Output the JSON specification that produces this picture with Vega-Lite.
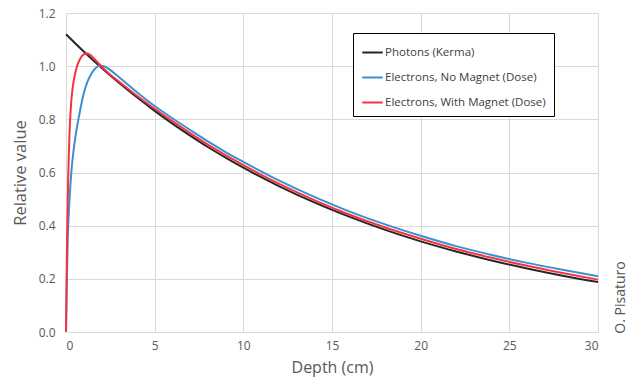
{
  "$schema": "https://vega.github.io/schema/vega-lite/v6.json",
  "width": 532,
  "height": 319,
  "autosize": "none",
  "padding": {"left": 66, "top": 13, "right": 32, "bottom": 47},
  "background": "white",
  "config": {
    "view": {"stroke": null},
    "font": "Open Sans",
    "axis": {"labelColor": "#595959", "titleColor": "#595959", "labelFontSize": 12, "titleFontSize": 16.5, "titleFontWeight": "normal", "gridColor": "#d9d9d9", "gridWidth": 1, "domain": false, "ticks": false}
  },
  "data": {"values": [
    {"d": 0, "v": 1.12, "s": "Photons (Kerma)"},
    {"d": 1, "v": 1.055, "s": "Photons (Kerma)"},
    {"d": 2, "v": 0.994, "s": "Photons (Kerma)"},
    {"d": 3, "v": 0.937, "s": "Photons (Kerma)"},
    {"d": 4, "v": 0.883, "s": "Photons (Kerma)"},
    {"d": 5, "v": 0.832, "s": "Photons (Kerma)"},
    {"d": 6, "v": 0.784, "s": "Photons (Kerma)"},
    {"d": 7, "v": 0.739, "s": "Photons (Kerma)"},
    {"d": 8, "v": 0.696, "s": "Photons (Kerma)"},
    {"d": 9, "v": 0.656, "s": "Photons (Kerma)"},
    {"d": 10, "v": 0.618, "s": "Photons (Kerma)"},
    {"d": 12, "v": 0.549, "s": "Photons (Kerma)"},
    {"d": 14, "v": 0.4875, "s": "Photons (Kerma)"},
    {"d": 16, "v": 0.433, "s": "Photons (Kerma)"},
    {"d": 18, "v": 0.384, "s": "Photons (Kerma)"},
    {"d": 20, "v": 0.341, "s": "Photons (Kerma)"},
    {"d": 22, "v": 0.303, "s": "Photons (Kerma)"},
    {"d": 24, "v": 0.269, "s": "Photons (Kerma)"},
    {"d": 26, "v": 0.239, "s": "Photons (Kerma)"},
    {"d": 28, "v": 0.212, "s": "Photons (Kerma)"},
    {"d": 30, "v": 0.188, "s": "Photons (Kerma)"},
    {"d": 0, "v": 0, "s": "Electrons, No Magnet (Dose)"},
    {"d": 0.05, "v": 0.2, "s": "Electrons, No Magnet (Dose)"},
    {"d": 0.1, "v": 0.35, "s": "Electrons, No Magnet (Dose)"},
    {"d": 0.2, "v": 0.5, "s": "Electrons, No Magnet (Dose)"},
    {"d": 0.3, "v": 0.6, "s": "Electrons, No Magnet (Dose)"},
    {"d": 0.4, "v": 0.668, "s": "Electrons, No Magnet (Dose)"},
    {"d": 0.5, "v": 0.72, "s": "Electrons, No Magnet (Dose)"},
    {"d": 0.6, "v": 0.763, "s": "Electrons, No Magnet (Dose)"},
    {"d": 0.7, "v": 0.8, "s": "Electrons, No Magnet (Dose)"},
    {"d": 0.8, "v": 0.835, "s": "Electrons, No Magnet (Dose)"},
    {"d": 0.9, "v": 0.868, "s": "Electrons, No Magnet (Dose)"},
    {"d": 1.0, "v": 0.897, "s": "Electrons, No Magnet (Dose)"},
    {"d": 1.2, "v": 0.94, "s": "Electrons, No Magnet (Dose)"},
    {"d": 1.4, "v": 0.968, "s": "Electrons, No Magnet (Dose)"},
    {"d": 1.6, "v": 0.988, "s": "Electrons, No Magnet (Dose)"},
    {"d": 1.8, "v": 0.999, "s": "Electrons, No Magnet (Dose)"},
    {"d": 2.0, "v": 1.002, "s": "Electrons, No Magnet (Dose)"},
    {"d": 2.2, "v": 0.998, "s": "Electrons, No Magnet (Dose)"},
    {"d": 2.5, "v": 0.985, "s": "Electrons, No Magnet (Dose)"},
    {"d": 3, "v": 0.958, "s": "Electrons, No Magnet (Dose)"},
    {"d": 3.5, "v": 0.93, "s": "Electrons, No Magnet (Dose)"},
    {"d": 4, "v": 0.902, "s": "Electrons, No Magnet (Dose)"},
    {"d": 5, "v": 0.85, "s": "Electrons, No Magnet (Dose)"},
    {"d": 6, "v": 0.804, "s": "Electrons, No Magnet (Dose)"},
    {"d": 7, "v": 0.76, "s": "Electrons, No Magnet (Dose)"},
    {"d": 8, "v": 0.717, "s": "Electrons, No Magnet (Dose)"},
    {"d": 9, "v": 0.677, "s": "Electrons, No Magnet (Dose)"},
    {"d": 10, "v": 0.64, "s": "Electrons, No Magnet (Dose)"},
    {"d": 12, "v": 0.57, "s": "Electrons, No Magnet (Dose)"},
    {"d": 14, "v": 0.508, "s": "Electrons, No Magnet (Dose)"},
    {"d": 16, "v": 0.453, "s": "Electrons, No Magnet (Dose)"},
    {"d": 18, "v": 0.405, "s": "Electrons, No Magnet (Dose)"},
    {"d": 20, "v": 0.362, "s": "Electrons, No Magnet (Dose)"},
    {"d": 22, "v": 0.323, "s": "Electrons, No Magnet (Dose)"},
    {"d": 24, "v": 0.29, "s": "Electrons, No Magnet (Dose)"},
    {"d": 26, "v": 0.26, "s": "Electrons, No Magnet (Dose)"},
    {"d": 28, "v": 0.234, "s": "Electrons, No Magnet (Dose)"},
    {"d": 30, "v": 0.21, "s": "Electrons, No Magnet (Dose)"},
    {"d": 0, "v": 0, "s": "Electrons, With Magnet (Dose)"},
    {"d": 0.05, "v": 0.3, "s": "Electrons, With Magnet (Dose)"},
    {"d": 0.1, "v": 0.5, "s": "Electrons, With Magnet (Dose)"},
    {"d": 0.2, "v": 0.75, "s": "Electrons, With Magnet (Dose)"},
    {"d": 0.3, "v": 0.87, "s": "Electrons, With Magnet (Dose)"},
    {"d": 0.4, "v": 0.93, "s": "Electrons, With Magnet (Dose)"},
    {"d": 0.5, "v": 0.968, "s": "Electrons, With Magnet (Dose)"},
    {"d": 0.6, "v": 0.995, "s": "Electrons, With Magnet (Dose)"},
    {"d": 0.8, "v": 1.028, "s": "Electrons, With Magnet (Dose)"},
    {"d": 1.0, "v": 1.044, "s": "Electrons, With Magnet (Dose)"},
    {"d": 1.2, "v": 1.048, "s": "Electrons, With Magnet (Dose)"},
    {"d": 1.4, "v": 1.041, "s": "Electrons, With Magnet (Dose)"},
    {"d": 1.6, "v": 1.027, "s": "Electrons, With Magnet (Dose)"},
    {"d": 2.0, "v": 0.999, "s": "Electrons, With Magnet (Dose)"},
    {"d": 2.5, "v": 0.968, "s": "Electrons, With Magnet (Dose)"},
    {"d": 3, "v": 0.941, "s": "Electrons, With Magnet (Dose)"},
    {"d": 4, "v": 0.889, "s": "Electrons, With Magnet (Dose)"},
    {"d": 5, "v": 0.84, "s": "Electrons, With Magnet (Dose)"},
    {"d": 6, "v": 0.793, "s": "Electrons, With Magnet (Dose)"},
    {"d": 7, "v": 0.748, "s": "Electrons, With Magnet (Dose)"},
    {"d": 8, "v": 0.705, "s": "Electrons, With Magnet (Dose)"},
    {"d": 9, "v": 0.665, "s": "Electrons, With Magnet (Dose)"},
    {"d": 10, "v": 0.628, "s": "Electrons, With Magnet (Dose)"},
    {"d": 12, "v": 0.558, "s": "Electrons, With Magnet (Dose)"},
    {"d": 14, "v": 0.496, "s": "Electrons, With Magnet (Dose)"},
    {"d": 16, "v": 0.441, "s": "Electrons, With Magnet (Dose)"},
    {"d": 18, "v": 0.393, "s": "Electrons, With Magnet (Dose)"},
    {"d": 20, "v": 0.351, "s": "Electrons, With Magnet (Dose)"},
    {"d": 22, "v": 0.312, "s": "Electrons, With Magnet (Dose)"},
    {"d": 24, "v": 0.279, "s": "Electrons, With Magnet (Dose)"},
    {"d": 26, "v": 0.249, "s": "Electrons, With Magnet (Dose)"},
    {"d": 28, "v": 0.222, "s": "Electrons, With Magnet (Dose)"},
    {"d": 30, "v": 0.197, "s": "Electrons, With Magnet (Dose)"}
  ]},
  "layer": [
    {
      "mark": {"type": "line", "strokeWidth": 2, "interpolate": "monotone"},
      "encoding": {
        "x": {"field": "d", "type": "quantitative", "scale": {"domain": [0, 30], "nice": false},
              "axis": {"values": [0, 5, 10, 15, 20, 25, 30], "title": "Depth (cm)", "titleFontSize": 16, "labelPadding": 8, "titlePadding": 8}},
        "y": {"field": "v", "type": "quantitative", "scale": {"domain": [0, 1.2], "nice": false},
              "axis": {"values": [0, 0.2, 0.4, 0.6, 0.8, 1.0, 1.2], "format": ".1f", "title": "Relative value", "labelPadding": 11, "titlePadding": 10}},
        "color": {"field": "s", "type": "nominal",
          "scale": {"domain": ["Photons (Kerma)", "Electrons, No Magnet (Dose)", "Electrons, With Magnet (Dose)"], "range": ["#262626", "#3d8fd4", "#f5333f"]},
          "legend": {"title": null, "orient": "none", "legendX": 287, "legendY": 20, "symbolType": "stroke", "symbolSize": 420, "symbolStrokeWidth": 2, "labelFontSize": 11.5, "labelColor": "#404040", "labelOffset": 1, "rowPadding": 8, "padding": 8, "strokeColor": "#000000", "fillColor": "white", "labelLimit": 300}},
        "order": {"field": "s", "type": "nominal"}
      }
    },
    {
      "mark": {"type": "line", "strokeOpacity": 0},
      "encoding": {
        "x": {"field": "d", "type": "quantitative"},
        "y": {"field": "v", "type": "quantitative",
              "axis": {"orient": "right", "grid": false, "labels": false, "title": "O. Pisaturo", "titleAngle": 270, "titleFontSize": 14, "titleY": 284, "titlePadding": 29, "titleColor": "#555555"}},
        "detail": {"field": "s"}
      }
    }
  ],
  "resolve": {"axis": {"y": "independent"}}
}
